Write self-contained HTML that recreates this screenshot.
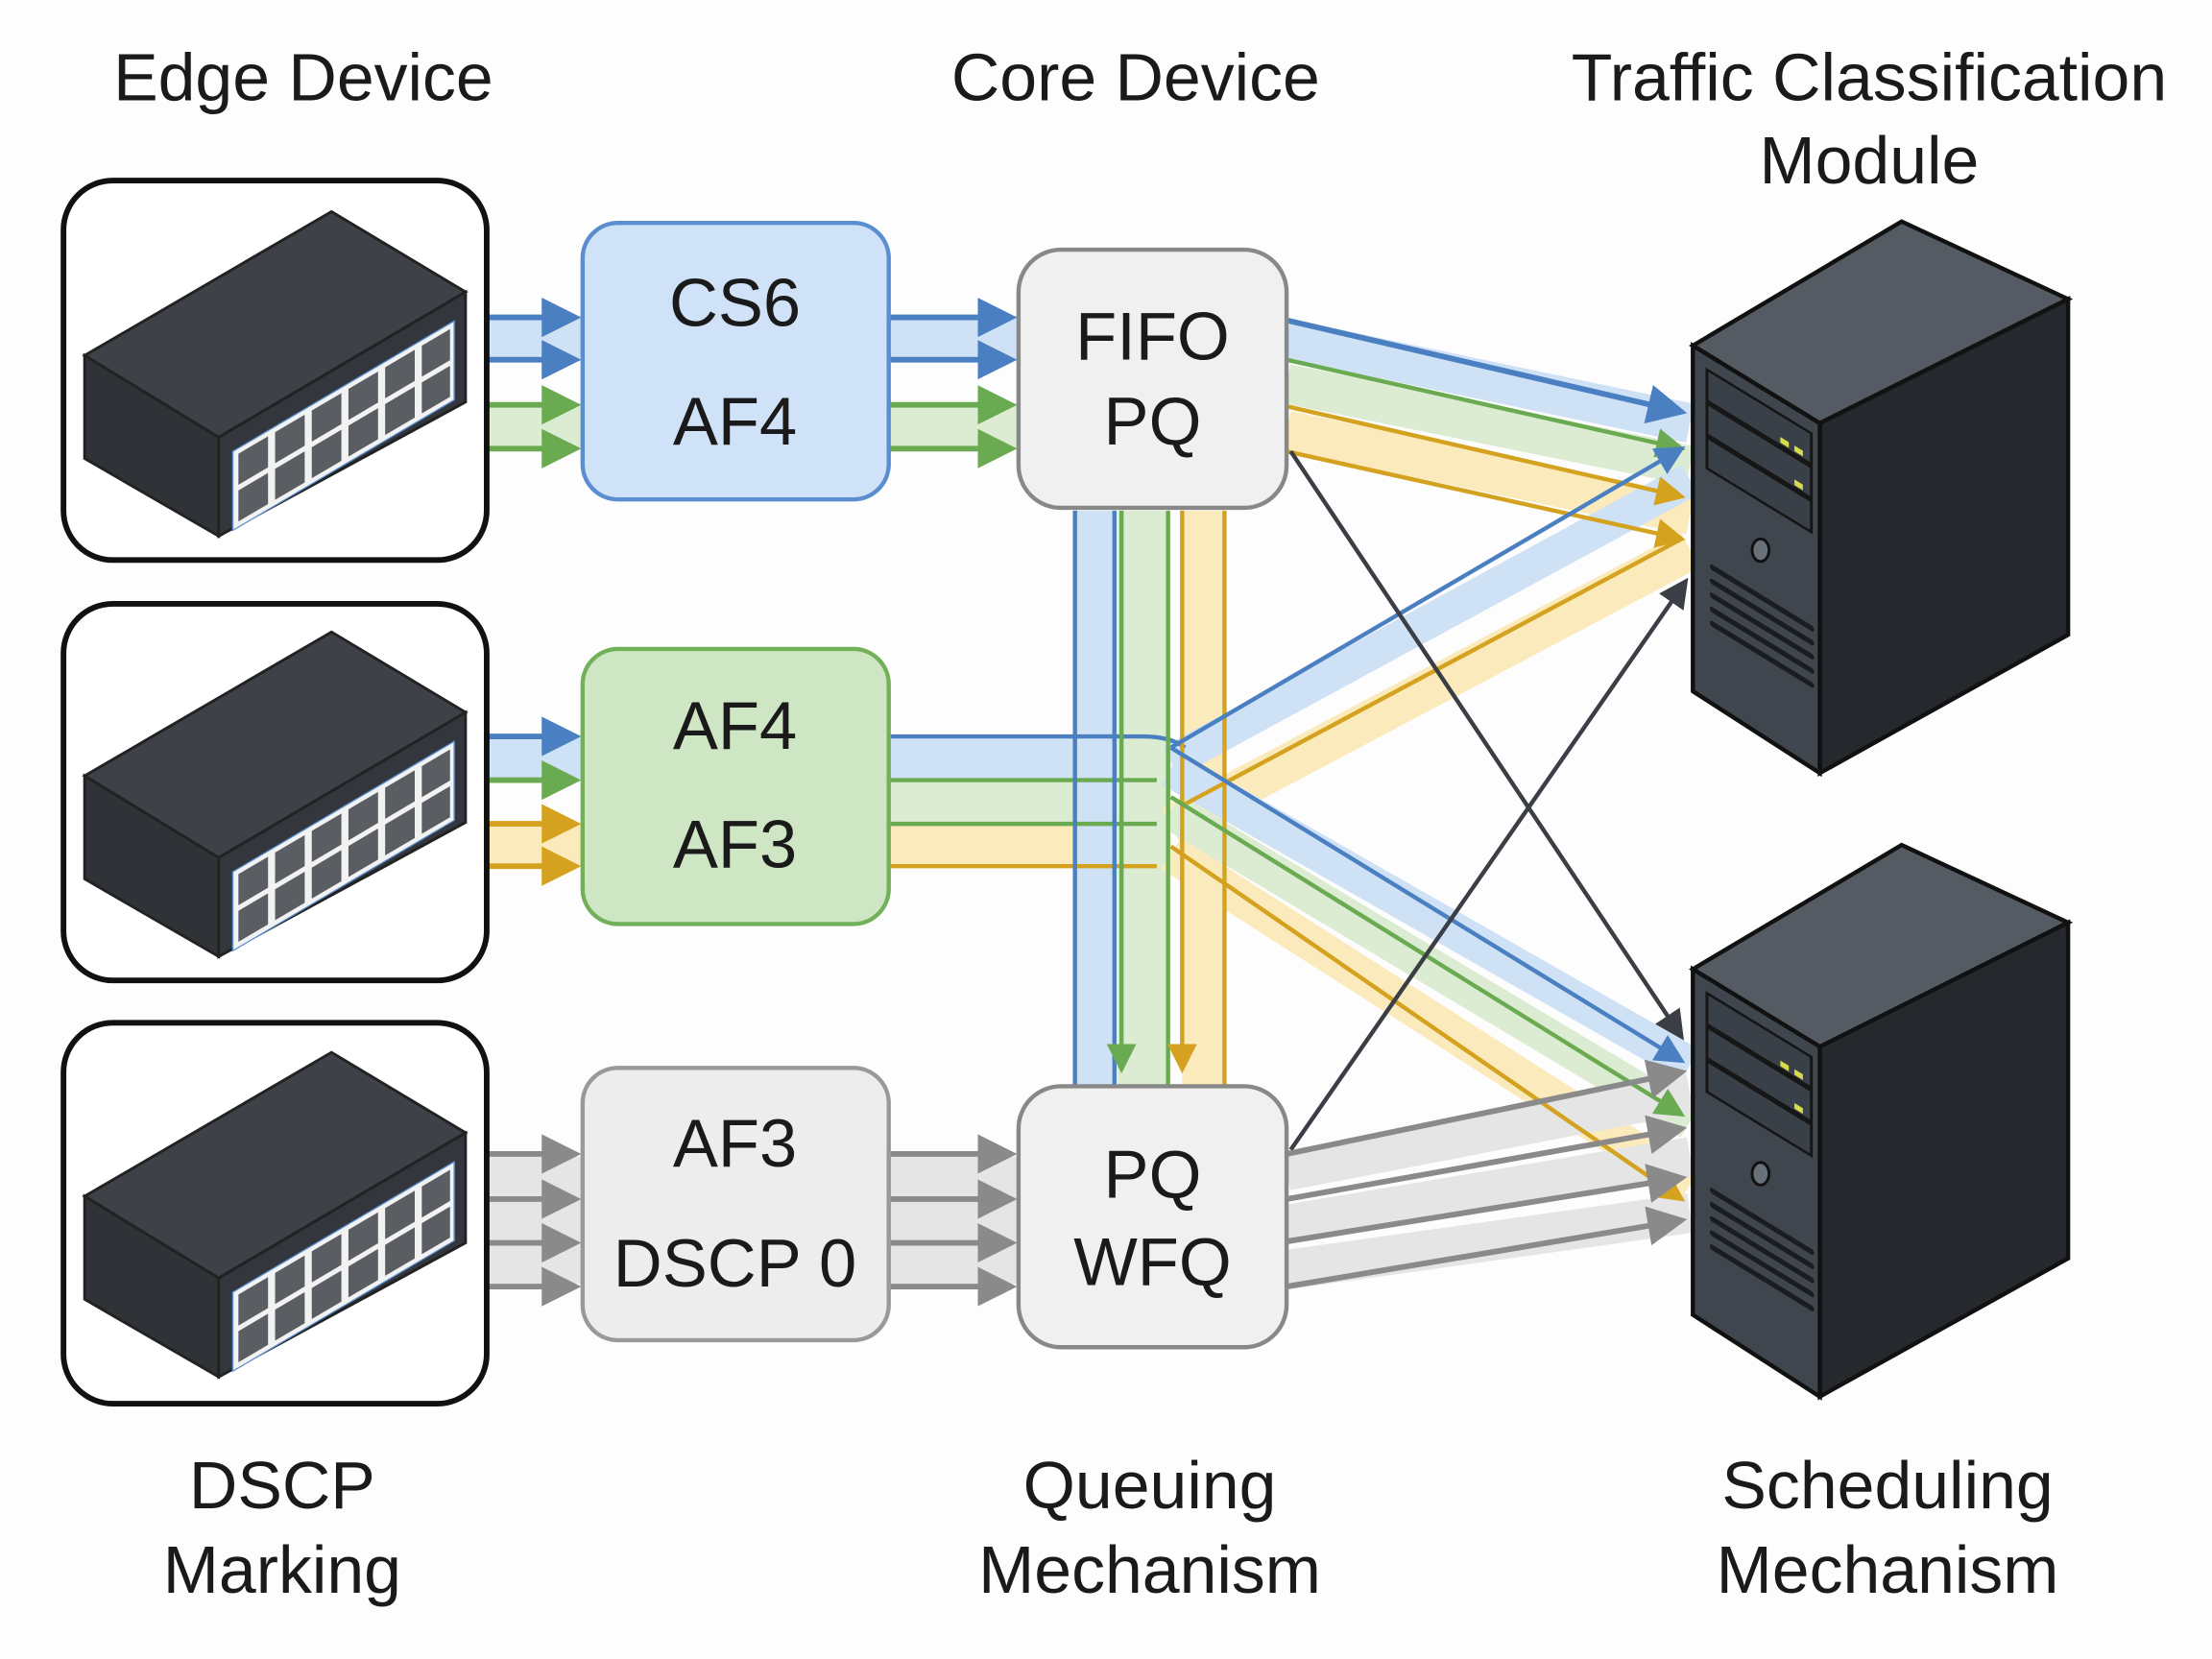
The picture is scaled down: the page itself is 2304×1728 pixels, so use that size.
<!DOCTYPE html>
<html><head><meta charset="utf-8"><style>
html,body{margin:0;padding:0;background:#fdfdfd}
svg{display:block}
text{font-family:"Liberation Sans",sans-serif;fill:#1a1a1a}
</style></head><body>
<svg width="2304" height="1728" viewBox="0 0 1568 1176" xmlns="http://www.w3.org/2000/svg">
<defs>
<marker id="mb" markerWidth="7" markerHeight="7" refX="6" refY="3.5" orient="auto" markerUnits="strokeWidth"><path d="M0,0 L7,3.5 L0,7 Z" fill="#4a7fc1"/></marker>
<marker id="mg" markerWidth="7" markerHeight="7" refX="6" refY="3.5" orient="auto" markerUnits="strokeWidth"><path d="M0,0 L7,3.5 L0,7 Z" fill="#6aab52"/></marker>
<marker id="my" markerWidth="7" markerHeight="7" refX="6" refY="3.5" orient="auto" markerUnits="strokeWidth"><path d="M0,0 L7,3.5 L0,7 Z" fill="#d4a21e"/></marker>
<marker id="mr" markerWidth="7" markerHeight="7" refX="6" refY="3.5" orient="auto" markerUnits="strokeWidth"><path d="M0,0 L7,3.5 L0,7 Z" fill="#8a8a8a"/></marker>
<marker id="md" markerWidth="7" markerHeight="7" refX="6" refY="3.5" orient="auto" markerUnits="strokeWidth"><path d="M0,0 L7,3.5 L0,7 Z" fill="#3b3f45"/></marker>
<g id="sw">
 <polygon points="60,252 235,150 330,207 155,310" fill="#3e4248" stroke="#222" stroke-width="2"/>
 <polygon points="60,252 155,310 155,380 60,325" fill="#2f3338" stroke="#222" stroke-width="2"/>
 <polygon points="155,310 330,207 330,285 155,380" fill="#33373d" stroke="#222" stroke-width="2"/>
 <g transform="matrix(1,-0.589,0,1,165,320)">
  <rect x="0" y="0" width="157" height="56" fill="#f2f2f2" stroke="#5a8ed0" stroke-width="1"/>
  <g fill="#5a5d62">
   <rect x="4" y="4" width="21" height="22"/><rect x="30" y="4" width="21" height="22"/><rect x="56" y="4" width="21" height="22"/><rect x="82" y="4" width="21" height="22"/><rect x="108" y="4" width="21" height="22"/><rect x="134" y="4" width="20" height="22"/>
   <rect x="4" y="30" width="21" height="22"/><rect x="30" y="30" width="21" height="22"/><rect x="56" y="30" width="21" height="22"/><rect x="82" y="30" width="21" height="22"/><rect x="108" y="30" width="21" height="22"/><rect x="134" y="30" width="20" height="22"/>
  </g>
 </g>
</g>
<g id="srv">
 <polygon points="1200,245 1348,157 1466,212 1290,300" fill="#555b63" stroke="#111" stroke-width="3"/>
 <polygon points="1290,300 1466,212 1466,450 1290,548" fill="#25282d" stroke="#111" stroke-width="3"/>
 <polygon points="1200,245 1290,300 1290,548 1200,490" fill="#40464e" stroke="#111" stroke-width="3"/>
 <g transform="matrix(1,0.611,0,1,1210,262)">
  <rect x="0" y="0" width="74" height="22" fill="#3a4047" stroke="#151515" stroke-width="2"/>
  <rect x="0" y="24" width="74" height="22" fill="#3a4047" stroke="#151515" stroke-width="2"/>
  <rect x="0" y="48" width="74" height="22" fill="#3a4047" stroke="#151515" stroke-width="2"/>
  <rect x="52" y="16" width="6" height="4" fill="#d8dc4a"/><rect x="62" y="16" width="6" height="4" fill="#d8dc4a"/>
  <rect x="62" y="40" width="6" height="4" fill="#d8dc4a"/>
  <g stroke="#1a1c20" stroke-width="4" stroke-linecap="round">
   <line x1="4" y1="138" x2="74" y2="138"/><line x1="4" y1="148" x2="74" y2="148"/><line x1="4" y1="158" x2="74" y2="158"/><line x1="4" y1="168" x2="74" y2="168"/><line x1="4" y1="178" x2="74" y2="178"/>
  </g>
 </g>
 <ellipse cx="1248" cy="390" rx="6" ry="8" fill="#6a7078" stroke="#111" stroke-width="2"/>
</g>
</defs>

<g font-size="47.5" text-anchor="middle">
<text x="215" y="71">Edge Device</text>
<text x="805" y="71">Core Device</text>
<text x="1325" y="71">Traffic Classification</text>
<text x="1325" y="130">Module</text>
<text x="200" y="1069">DSCP</text>
<text x="200" y="1129">Marking</text>
<text x="815" y="1069">Queuing</text>
<text x="815" y="1129">Mechanism</text>
<text x="1338" y="1069">Scheduling</text>
<text x="1338" y="1129">Mechanism</text>
</g>

<g stroke-linecap="butt" opacity="0.7">
 <line x1="345" y1="240" x2="413" y2="240" stroke="#bcd6f2" stroke-width="32"/>
 <line x1="345" y1="302" x2="413" y2="302" stroke="#cfe5c2" stroke-width="32"/>
 <line x1="630" y1="240" x2="722" y2="240" stroke="#bcd6f2" stroke-width="32"/>
 <line x1="630" y1="302" x2="722" y2="302" stroke="#cfe5c2" stroke-width="32"/>
 <line x1="345" y1="537" x2="413" y2="537" stroke="#bcd6f2" stroke-width="30"/>
 <line x1="345" y1="599" x2="413" y2="599" stroke="#fbe3a0" stroke-width="30"/>
 <line x1="345" y1="865" x2="413" y2="865" stroke="#dcdcdc" stroke-width="90"/>
 <line x1="630" y1="865" x2="722" y2="865" stroke="#dcdcdc" stroke-width="90"/>
 <line x1="630" y1="537" x2="830" y2="537" stroke="#bcd6f2" stroke-width="30"/>
 <line x1="630" y1="568" x2="830" y2="568" stroke="#cfe5c2" stroke-width="30"/>
 <line x1="630" y1="599" x2="830" y2="599" stroke="#fbe3a0" stroke-width="30"/>
 <line x1="776" y1="362" x2="776" y2="770" stroke="#bcd6f2" stroke-width="28"/>
 <line x1="810" y1="362" x2="810" y2="770" stroke="#cfe5c2" stroke-width="36"/>
 <line x1="853" y1="362" x2="853" y2="770" stroke="#fbe3a0" stroke-width="30"/>
 <line x1="912" y1="240" x2="1198" y2="300" stroke="#bcd6f2" stroke-width="28"/>
 <line x1="912" y1="272" x2="1198" y2="330" stroke="#cfe5c2" stroke-width="28"/>
 <line x1="912" y1="305" x2="1198" y2="365" stroke="#fbe3a0" stroke-width="28"/>
 <line x1="830" y1="540" x2="1198" y2="340" stroke="#bcd6f2" stroke-width="24"/>
 <line x1="830" y1="585" x2="1198" y2="390" stroke="#fbe3a0" stroke-width="28"/>
 <line x1="830" y1="545" x2="1198" y2="755" stroke="#bcd6f2" stroke-width="26"/>
 <line x1="830" y1="575" x2="1198" y2="795" stroke="#cfe5c2" stroke-width="26"/>
 <line x1="830" y1="605" x2="1198" y2="840" stroke="#fbe3a0" stroke-width="26"/>
 <line x1="912" y1="830" x2="1198" y2="775" stroke="#dcdcdc" stroke-width="28"/>
 <line x1="912" y1="868" x2="1198" y2="820" stroke="#dcdcdc" stroke-width="28"/>
 <line x1="912" y1="900" x2="1198" y2="860" stroke="#dcdcdc" stroke-width="28"/>
</g>

<g stroke-width="4" fill="none">
 <line x1="345" y1="225" x2="408" y2="225" stroke="#4a7fc1" marker-end="url(#mb)"/>
 <line x1="345" y1="255" x2="408" y2="255" stroke="#4a7fc1" marker-end="url(#mb)"/>
 <line x1="345" y1="287" x2="408" y2="287" stroke="#6aab52" marker-end="url(#mg)"/>
 <line x1="345" y1="318" x2="408" y2="318" stroke="#6aab52" marker-end="url(#mg)"/>
 <line x1="630" y1="225" x2="717" y2="225" stroke="#4a7fc1" marker-end="url(#mb)"/>
 <line x1="630" y1="255" x2="717" y2="255" stroke="#4a7fc1" marker-end="url(#mb)"/>
 <line x1="630" y1="287" x2="717" y2="287" stroke="#6aab52" marker-end="url(#mg)"/>
 <line x1="630" y1="318" x2="717" y2="318" stroke="#6aab52" marker-end="url(#mg)"/>
 <line x1="345" y1="522" x2="408" y2="522" stroke="#4a7fc1" marker-end="url(#mb)"/>
 <line x1="345" y1="553" x2="408" y2="553" stroke="#6aab52" marker-end="url(#mg)"/>
 <line x1="345" y1="584" x2="408" y2="584" stroke="#d4a21e" marker-end="url(#my)"/>
 <line x1="345" y1="614" x2="408" y2="614" stroke="#d4a21e" marker-end="url(#my)"/>
 <line x1="345" y1="818" x2="408" y2="818" stroke="#8a8a8a" marker-end="url(#mr)"/>
 <line x1="345" y1="850" x2="408" y2="850" stroke="#8a8a8a" marker-end="url(#mr)"/>
 <line x1="345" y1="881" x2="408" y2="881" stroke="#8a8a8a" marker-end="url(#mr)"/>
 <line x1="345" y1="912" x2="408" y2="912" stroke="#8a8a8a" marker-end="url(#mr)"/>
 <line x1="630" y1="818" x2="717" y2="818" stroke="#8a8a8a" marker-end="url(#mr)"/>
 <line x1="630" y1="850" x2="717" y2="850" stroke="#8a8a8a" marker-end="url(#mr)"/>
 <line x1="630" y1="881" x2="717" y2="881" stroke="#8a8a8a" marker-end="url(#mr)"/>
 <line x1="630" y1="912" x2="717" y2="912" stroke="#8a8a8a" marker-end="url(#mr)"/>
 <path d="M630,522 H810 Q830,522 840,530" stroke="#4a7fc1" stroke-width="3"/>
 <path d="M630,553 H820" stroke="#6aab52" stroke-width="3"/>
 <path d="M630,584 H820" stroke="#6aab52" stroke-width="3"/>
 <path d="M630,614 H820" stroke="#d4a21e" stroke-width="3"/>
 <line x1="762" y1="362" x2="762" y2="770" stroke="#4a7fc1" stroke-width="3"/>
 <line x1="790" y1="362" x2="790" y2="770" stroke="#4a7fc1" stroke-width="3"/>
 <line x1="795" y1="362" x2="795" y2="758" stroke="#6aab52" stroke-width="3" marker-end="url(#mg)"/>
 <line x1="828" y1="362" x2="828" y2="770" stroke="#6aab52" stroke-width="3"/>
 <line x1="838" y1="362" x2="838" y2="758" stroke="#d4a21e" stroke-width="3" marker-end="url(#my)"/>
 <line x1="868" y1="362" x2="868" y2="770" stroke="#d4a21e" stroke-width="3"/>
 <line x1="912" y1="227" x2="1192" y2="292" stroke="#4a7fc1" marker-end="url(#mb)"/>
 <line x1="912" y1="255" x2="1192" y2="318" stroke="#6aab52" stroke-width="3" marker-end="url(#mg)"/>
 <line x1="912" y1="288" x2="1192" y2="352" stroke="#d4a21e" stroke-width="3" marker-end="url(#my)"/>
 <line x1="912" y1="320" x2="1192" y2="382" stroke="#d4a21e" stroke-width="3" marker-end="url(#my)"/>
 <line x1="830" y1="530" x2="1192" y2="318" stroke="#4a7fc1" stroke-width="3" marker-end="url(#mb)"/>
 <line x1="840" y1="570" x2="1192" y2="382" stroke="#d4a21e" stroke-width="3"/>
 <line x1="830" y1="530" x2="1192" y2="752" stroke="#4a7fc1" stroke-width="3" marker-end="url(#mb)"/>
 <line x1="830" y1="565" x2="1192" y2="790" stroke="#6aab52" stroke-width="3" marker-end="url(#mg)"/>
 <line x1="830" y1="600" x2="1192" y2="850" stroke="#d4a21e" stroke-width="3" marker-end="url(#my)"/>
 <line x1="915" y1="320" x2="1192" y2="735" stroke="#3b3f45" stroke-width="3" marker-end="url(#md)"/>
 <line x1="915" y1="815" x2="1195" y2="412" stroke="#3b3f45" stroke-width="3" marker-end="url(#md)"/>
 <line x1="912" y1="818" x2="1192" y2="760" stroke="#8a8a8a" marker-end="url(#mr)"/>
 <line x1="912" y1="850" x2="1192" y2="800" stroke="#8a8a8a" marker-end="url(#mr)"/>
 <line x1="912" y1="880" x2="1192" y2="835" stroke="#8a8a8a" marker-end="url(#mr)"/>
 <line x1="912" y1="912" x2="1192" y2="865" stroke="#8a8a8a" marker-end="url(#mr)"/>
</g>

<g fill="#fff" stroke="#111" stroke-width="4">
 <rect x="45" y="128" width="300" height="269" rx="35"/>
 <rect x="45" y="428" width="300" height="267" rx="35"/>
 <rect x="45" y="725" width="300" height="270" rx="35"/>
</g>
<use href="#sw"/>
<use href="#sw" transform="translate(0,298)"/>
<use href="#sw" transform="translate(0,596)"/>

<rect x="413" y="158" width="217" height="196" rx="25" fill="#cfe2f8" stroke="#5a8ed0" stroke-width="3"/>
<rect x="413" y="460" width="217" height="195" rx="25" fill="#cfe6c4" stroke="#72b05a" stroke-width="3"/>
<rect x="413" y="757" width="217" height="193" rx="25" fill="#ededed" stroke="#999" stroke-width="3"/>
<rect x="722" y="177" width="190" height="183" rx="30" fill="#f0f0f0" stroke="#888" stroke-width="3"/>
<rect x="722" y="770" width="190" height="185" rx="30" fill="#f0f0f0" stroke="#888" stroke-width="3"/>
<g font-size="48" text-anchor="middle">
<text x="521" y="231">CS6</text>
<text x="521" y="315">AF4</text>
<text x="521" y="531">AF4</text>
<text x="521" y="615">AF3</text>
<text x="521" y="827">AF3</text>
<text x="521" y="912">DSCP 0</text>
<text x="817" y="255">FIFO</text>
<text x="817" y="315">PQ</text>
<text x="817" y="849">PQ</text>
<text x="817" y="911">WFQ</text>
</g>

<use href="#srv"/>
<use href="#srv" transform="translate(0,442)"/>
</svg>
</body></html>
